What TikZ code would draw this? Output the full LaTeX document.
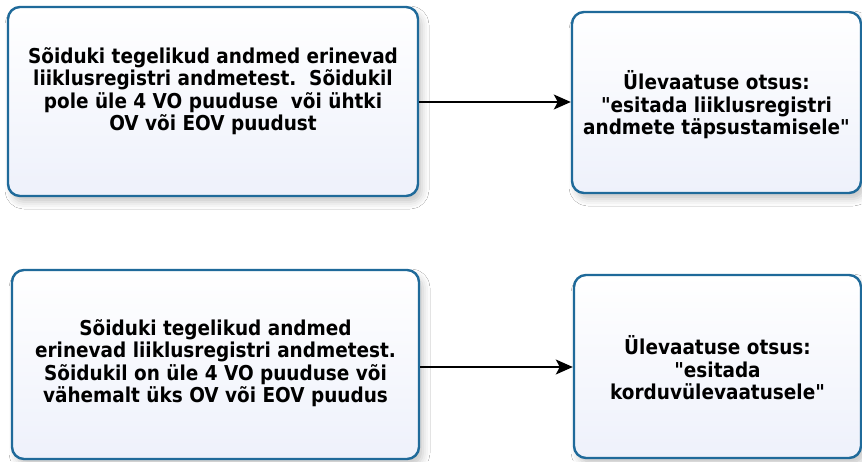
\documentclass[tikz,border=0pt]{standalone}
\usepackage{fontspec}
\newfontfamily\boxfont{DejaVu Sans}[FakeStretch=0.9]
\usetikzlibrary{arrows.meta,shadows.blur}
\definecolor{boxedge}{HTML}{1F6A9A}
\definecolor{boxfill}{HTML}{EEF1FB}
\tikzset{
  flowbox/.style={draw=boxedge, line width=2.4pt, rounded corners=12pt,
    top color=white, bottom color=boxfill, inner sep=0pt,
    blur shadow={shadow xshift=4pt, shadow yshift=-6pt, shadow blur radius=7pt, shadow opacity=22}},
  flowtext/.style={align=center, font=\boxfont\bfseries\fontsize{20.5}{22.5}\selectfont, inner sep=0pt},
  flowarrow/.style={draw=black, line width=1.5pt, -{Stealth[length=17pt,width=15pt,inset=4pt]}},
}
\begin{document}
\begin{tikzpicture}[x=1pt,y=-1pt]
\useasboundingbox[fill=white] (0,0) rectangle (862,461);
\node[flowbox, minimum width=410pt, minimum height=189pt] (a) at (213,101.5) {};
\node[flowbox, minimum width=289pt, minimum height=181pt] (b) at (716.5,102.5) {};
\node[flowbox, minimum width=407pt, minimum height=189pt] (c) at (215.5,364.5) {};
\node[flowbox, minimum width=287pt, minimum height=183pt] (d) at (717.5,366.5) {};
\node[flowtext] (ta) at (213,91)
  {Sõiduki tegelikud andmed erinevad\\liiklusregistri andmetest.\ \ Sõidukil\\pole üle 4 VO puuduse\ \ või ühtki\\OV või EOV puudust};
\node[flowtext] (tb) at (716.5,105)
  {Ülevaatuse otsus:\\"esitada liiklusregistri\\andmete täpsustamisele"};
\node[flowtext] (tc) at (215.5,363)
  {Sõiduki tegelikud andmed\\erinevad liiklusregistri andmetest.\\Sõidukil on üle 4 VO puuduse või\\vähemalt üks OV või EOV puudus};
\node[flowtext] (td) at (717.5,368)
  {Ülevaatuse otsus:\\"esitada\\korduvülevaatusele"};
\draw[flowarrow] (a.east |- 0,102) -- (b.west |- 0,102);
\draw[flowarrow] (c.east |- 0,367) -- (d.west |- 0,367);
\end{tikzpicture}
\end{document}
